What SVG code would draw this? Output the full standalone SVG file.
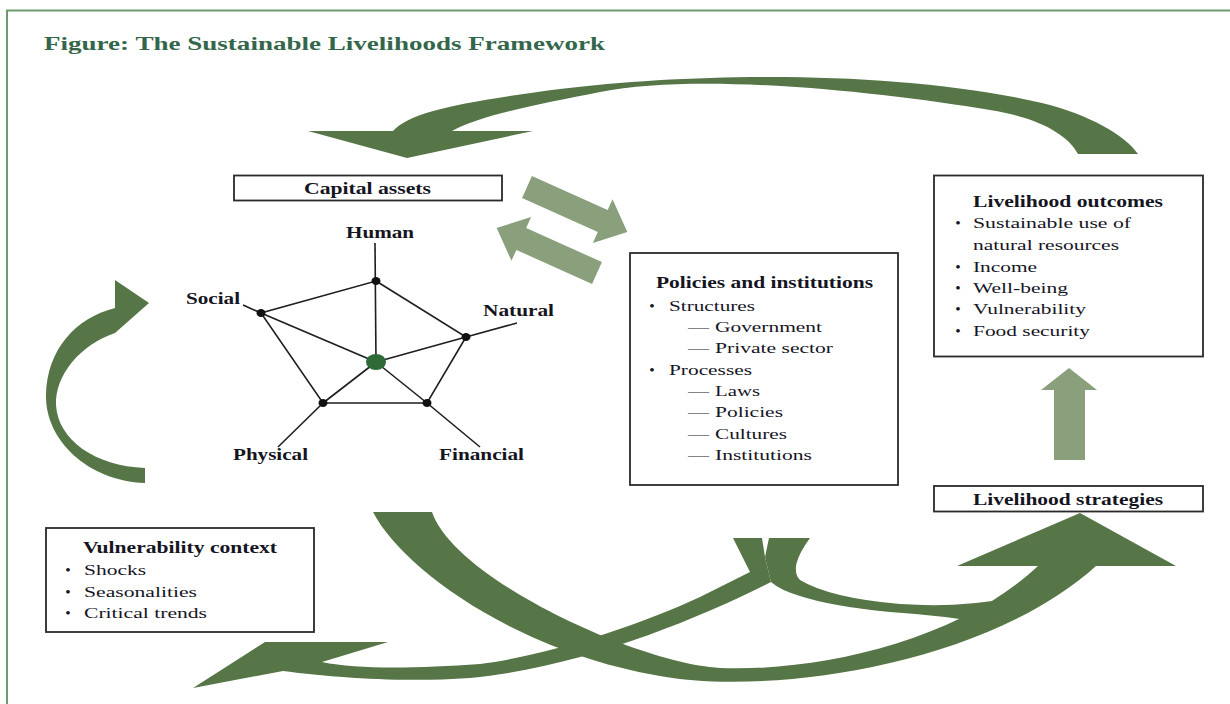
<svg xmlns="http://www.w3.org/2000/svg" width="1230" height="704" viewBox="0 0 1230 704">
<style>
text{font-family:"Liberation Serif","Times New Roman",serif;fill:#15151f}
.h{font-weight:bold;font-size:16px}
.t{font-size:15.5px}
.b{fill:#fff;stroke:#2a2a2a;stroke-width:1.8}
.dk{fill:#567647}
.lt{fill:#8aa07d}
.ln{stroke:#1e1e1e;stroke-width:1.6;fill:none}
.nd{fill:#111}
</style>
<defs>
<polygon id="blk" points="0,-12 83,-12 83,-24 110,0 83,24 83,12 0,12"/>
</defs>
<rect width="1230" height="704" fill="#fff"/>
<rect x="7" y="10.5" width="1250" height="720" fill="none" stroke="#6e9b6e" stroke-width="2"/>
<text id="title" x="44" y="50" font-size="19.5" font-weight="bold" textLength="561" lengthAdjust="spacingAndGlyphs" style="fill:#33664a">Figure: The Sustainable Livelihoods Framework</text>

<g id="connectors">
  <!-- top arc: outcomes back to capital assets -->
  <path class="dk" d="M308,131 L393,131 C410,112 460,102 560,89 C700,72 900,70 1042,103 C1090,115 1125,135 1138,154 L1078,154 C1068,135 1040,118 990,110 C880,92 700,72 600,92 C540,104 480,115 452,131 L533,131 L407,158 Z"/>
  <!-- left loop: vulnerability to capital assets -->
  <path class="dk" d="M115,280 L149,303 L115,333 C80,345 55,375 56,405 C58,440 95,466 145,468 L145,483 C88,481 45,440 46,395 C47,350 75,318 115,308 Z"/>
  <!-- capital assets <-> policies -->
  <use href="#blk" class="lt" transform="translate(527,187) rotate(24.2)"/>
  <use href="#blk" class="lt" transform="translate(597,273) rotate(204.2)"/>
  <!-- strategies to outcomes -->
  <polygon class="lt" points="1054,460 1085,460 1085,390 1097,390 1069,368 1041,390 1054,390"/>
  <!-- capital assets to livelihood strategies -->
  <path class="dk" d="M373,512 L432,512 C455,580 640,664 720,668 C820,672 960,640 1038,566 L957,566 L1080,513 L1176,566 L1096,566 C980,670 760,695 660,676 C510,650 400,565 373,512 Z"/>
  <!-- policies to vulnerability context -->
  <path class="dk" d="M733,538 L762,538 L765,557 L771,582 C700,618 580,668 470,678 C400,683 330,677 283,671 L193,688 L265,642 L388,642 L322,662 C360,670 420,668 480,664 C550,655 640,625 700,597 L750,572 Z"/>
  <!-- policies to livelihood strategies -->
  <path class="dk" d="M765,557 L769,538 L810,538 Q788,568 800,580 Q830,598 900,604 Q960,608 1010,598 L1000,625 Q940,615 890,612 Q830,606 800,596 Q780,590 771,582 Z"/>
</g>

<g id="capital-assets">
  <rect class="b" x="234" y="175.5" width="268" height="25"/>
  <text class="h" x="304" y="194" textLength="127" lengthAdjust="spacingAndGlyphs">Capital assets</text>
  <g class="ln">
    <polygon points="376,281 466,337 427,403 323,403 261,313"/>
    <line x1="376" y1="362" x2="375" y2="243"/>
    <line x1="376" y1="362" x2="261" y2="313"/>
    <line x1="376" y1="362" x2="466" y2="337"/>
    <line x1="376" y1="362" x2="427" y2="403"/>
    <line x1="376" y1="362" x2="323" y2="403"/>
    <line x1="261" y1="313" x2="243" y2="305"/>
    <line x1="466" y1="337" x2="517" y2="323"/>
    <line x1="427" y1="403" x2="480" y2="447"/>
    <line x1="323" y1="403" x2="278" y2="447"/>
  </g>
  <ellipse cx="376" cy="362" rx="10" ry="8" fill="#2e6b36"/>
  <g class="nd">
    <ellipse cx="376" cy="281" rx="4.5" ry="4"/>
    <ellipse cx="261" cy="313" rx="4.5" ry="4"/>
    <ellipse cx="466" cy="337" rx="4.5" ry="4"/>
    <ellipse cx="427" cy="403" rx="4.5" ry="4"/>
    <ellipse cx="323" cy="403" rx="4.5" ry="4"/>
  </g>
  <text class="h" x="346" y="238" textLength="68" lengthAdjust="spacingAndGlyphs">Human</text>
  <text class="h" x="186" y="304" textLength="54" lengthAdjust="spacingAndGlyphs">Social</text>
  <text class="h" x="483" y="316" textLength="71" lengthAdjust="spacingAndGlyphs">Natural</text>
  <text class="h" x="233" y="460" textLength="75" lengthAdjust="spacingAndGlyphs">Physical</text>
  <text class="h" x="439" y="460" textLength="85" lengthAdjust="spacingAndGlyphs">Financial</text>
</g>

<g id="policies-institutions">
  <rect class="b" x="630" y="253" width="268" height="232"/>
  <text class="h" x="656" y="288" textLength="217" lengthAdjust="spacingAndGlyphs">Policies and institutions</text>
  <g class="t">
    <text x="652" y="311" text-anchor="middle">•</text>
    <text x="669" y="311" textLength="86" lengthAdjust="spacingAndGlyphs">Structures</text>
    <text x="688" y="332" textLength="21" lengthAdjust="spacingAndGlyphs">—</text>
    <text x="715" y="332" textLength="107" lengthAdjust="spacingAndGlyphs">Government</text>
    <text x="688" y="353" textLength="21" lengthAdjust="spacingAndGlyphs">—</text>
    <text x="715" y="353" textLength="118" lengthAdjust="spacingAndGlyphs">Private sector</text>
    <text x="652" y="375" text-anchor="middle">•</text>
    <text x="669" y="375" textLength="83" lengthAdjust="spacingAndGlyphs">Processes</text>
    <text x="688" y="396" textLength="21" lengthAdjust="spacingAndGlyphs">—</text>
    <text x="715" y="396" textLength="45" lengthAdjust="spacingAndGlyphs">Laws</text>
    <text x="688" y="417" textLength="21" lengthAdjust="spacingAndGlyphs">—</text>
    <text x="715" y="417" textLength="68" lengthAdjust="spacingAndGlyphs">Policies</text>
    <text x="688" y="439" textLength="21" lengthAdjust="spacingAndGlyphs">—</text>
    <text x="715" y="439" textLength="72" lengthAdjust="spacingAndGlyphs">Cultures</text>
    <text x="688" y="460" textLength="21" lengthAdjust="spacingAndGlyphs">—</text>
    <text x="715" y="460" textLength="97" lengthAdjust="spacingAndGlyphs">Institutions</text>
  </g>
</g>

<g id="livelihood-outcomes">
  <rect class="b" x="934" y="175.5" width="269" height="181"/>
  <text class="h" x="973" y="207" textLength="190" lengthAdjust="spacingAndGlyphs">Livelihood outcomes</text>
  <g class="t">
    <text x="958" y="228" text-anchor="middle">•</text>
    <text x="973" y="228" textLength="158" lengthAdjust="spacingAndGlyphs">Sustainable use of</text>
    <text x="973" y="250" textLength="146" lengthAdjust="spacingAndGlyphs">natural resources</text>
    <text x="958" y="272" text-anchor="middle">•</text>
    <text x="973" y="272" textLength="64" lengthAdjust="spacingAndGlyphs">Income</text>
    <text x="958" y="293" text-anchor="middle">•</text>
    <text x="973" y="293" textLength="95" lengthAdjust="spacingAndGlyphs">Well-being</text>
    <text x="958" y="314" text-anchor="middle">•</text>
    <text x="973" y="314" textLength="113" lengthAdjust="spacingAndGlyphs">Vulnerability</text>
    <text x="958" y="336" text-anchor="middle">•</text>
    <text x="973" y="336" textLength="117" lengthAdjust="spacingAndGlyphs">Food security</text>
  </g>
</g>

<g id="livelihood-strategies">
  <rect class="b" x="934" y="486" width="269" height="25.5"/>
  <text class="h" x="973" y="505" textLength="190" lengthAdjust="spacingAndGlyphs">Livelihood strategies</text>
</g>

<g id="vulnerability-context">
  <rect class="b" x="46" y="528" width="268" height="104"/>
  <text class="h" x="83" y="553" textLength="194" lengthAdjust="spacingAndGlyphs">Vulnerability context</text>
  <g class="t">
    <text x="68" y="575" text-anchor="middle">•</text>
    <text x="84" y="575" textLength="62" lengthAdjust="spacingAndGlyphs">Shocks</text>
    <text x="68" y="597" text-anchor="middle">•</text>
    <text x="84" y="597" textLength="113" lengthAdjust="spacingAndGlyphs">Seasonalities</text>
    <text x="68" y="618" text-anchor="middle">•</text>
    <text x="84" y="618" textLength="123" lengthAdjust="spacingAndGlyphs">Critical trends</text>
  </g>
</g>
</svg>
